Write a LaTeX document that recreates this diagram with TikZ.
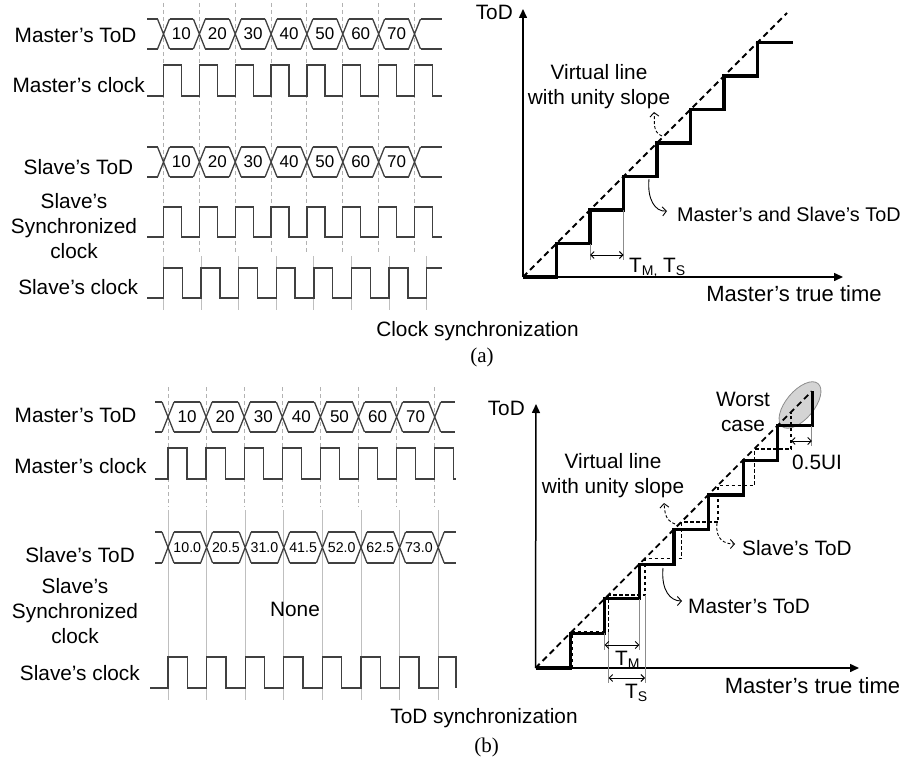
\documentclass[tikz,border=0pt]{standalone}
\usepackage{fontspec}
\setmainfont{Liberation Sans}
\newfontfamily\serifcap{Liberation Serif}
\usetikzlibrary{arrows.meta}
\newcommand{\sub}[1]{\raisebox{-3.5pt}{\fontsize{14}{14}\selectfont #1}}
% name, x start, x end, first crossing, period, y top, y bottom, value style, values
\newcommand{\todbus}[9]{%
  \draw[wave] (#2,#6) -- ({#4-6},#6) (#2,#7) -- ({#4-6},#7)
    ({#4+7*#5+6},#6) -- (#3,#6) ({#4+7*#5+6},#7) -- (#3,#7);
  \foreach \i in {0,...,7}
    \draw[wave] ({#4+#5*\i-6},#6) -- ({#4+#5*\i+6},#7) ({#4+#5*\i-6},#7) -- ({#4+#5*\i+6},#6);
  \foreach \v [count=\i from 0] in {#9} {
    \draw[wave] ({#4+#5*\i+6},#6) -- ({#4+#5*(\i+1)-6},#6) ({#4+#5*\i+6},#7) -- ({#4+#5*(\i+1)-6},#7);
    \node[#8] (#1-\i) at ({#4+#5*(\i+0.5)},{(#6+#7)/2}) {\v};
  }%
}
% x start, first rise, period, y high, y low, tail
\newcommand{\clkline}[6]{%
  \draw[wave] (#1,#5) -- (#2,#5)
    foreach \i in {0,...,6} { -- ({#2+#3*\i},#4) -- ({#2+#3*(\i+0.5)},#4) -- ({#2+#3*(\i+0.5)},#5) -- ({#2+#3*(\i+1)},#5) }
    -- ({#2+#3*7},#4) #6;
}

\begin{document}
\begin{tikzpicture}[
  x=1pt,y=-1pt,
  lbl/.style={font=\fontsize{20.8}{25}\selectfont,inner sep=0pt,align=center},
  big/.style={font=\fontsize{22}{25}\selectfont,inner sep=0pt},
  val/.style={font=\fontsize{17}{17}\selectfont,inner sep=0pt},
  valb/.style={font=\fontsize{14.2}{14}\selectfont,inner sep=0pt},
  capt/.style={font=\serifcap\fontsize{21}{25}\selectfont,inner sep=0pt},
  wave/.style={line width=1.3pt,draw=black!75},
  gridd/.style={draw=black!30,line width=0.9pt,dash pattern=on 4pt off 3pt},
  grids/.style={draw=black!25,line width=0.9pt},
  stair/.style={line width=3.2pt},
  slv/.style={line width=1.1pt,dash pattern=on 3.5pt off 2.5pt},
  virt/.style={line width=1.8pt,dash pattern=on 6pt off 4pt},
  axis/.style={line width=1.5pt,-{Triangle[length=9pt,width=8pt]}},
  callout/.style={line width=0.9pt,-{Straight Barb[length=4pt,width=9pt]}},
  dim/.style={line width=0.9pt,{Straight Barb[length=3.5pt,width=7pt]}-{Straight Barb[length=3.5pt,width=7pt]}},
  tick/.style={draw=black!45,line width=0.8pt}
]
\useasboundingbox (0,0) rectangle (909,759);

% (a) waveforms
\foreach \i in {0,...,7} \draw[gridd] ({163.5+35.86*\i},3) -- ({163.5+35.86*\i},252);
\foreach \i in {0,...,7} \draw[grids] ({163.5+37.6*\i},256) -- ({163.5+37.6*\i},310);
\node[lbl,anchor=base east] (mtodA) at (136.7,42.7) {Master's ToD};
\node[lbl,anchor=base east] (mclkA) at (145,93) {Master's clock};
\node[lbl,anchor=base east] (stodA) at (133.3,175) {Slave's ToD};
\node[lbl] (ssyncA) at (74,225.6) {Slave's\\Synchronized\\clock};
\node[lbl,anchor=base east] (sclkA) at (138.3,294) {Slave's clock};
\todbus{mbA}{147}{442}{163.5}{35.86}{19}{49}{val}{10,20,30,40,50,60,70}
\clkline{147}{163.5}{35.86}{65}{96}{-- (432.45,65) -- (432.45,96) -- (442,96)}
\todbus{sbA}{147}{442}{163.5}{35.86}{147}{177}{val}{10,20,30,40,50,60,70}
\clkline{147}{163.5}{35.86}{207}{237}{-- (432.45,207) -- (432.45,237) -- (442,237)}
\clkline{147}{163.5}{37.6}{268}{298}{-- (442,268)}
\node[lbl,anchor=base] (capA) at (477.5,336) {Clock synchronization};
\node[capt,anchor=base] (tagA) at (482,362) {(a)};

% (a) time of day graph
\coordinate (oA) at (523,277);
\coordinate (yA) at (523,9);
\coordinate (xA) at (843,277);
\draw[axis] (oA) -- (yA);
\draw[axis] (oA) -- (xA);
\node[lbl,anchor=base east] (ylA) at (513,20) {ToD};
\node[big,anchor=base] (xlA) at (794,301.7) {Master's true time};
\draw[virt] (oA) -- (787,13);
\draw[stair] (oA) foreach \k in {1,...,7} { -- ({523+33.5*\k},{277-33.5*(\k-1)}) -- ({523+33.5*\k},{277-33.5*\k}) } -- (793,42.5);
\draw[tick] (590,243.5) -- (590,260) (623.5,210) -- (623.5,260);
\draw[dim] (590,255) -- (623.5,255);
\node[lbl,anchor=base west] (tmsA) at (629,272) {T\sub{M,} T\sub{S}};
\node[lbl] (vlA) at (599,86.5) {Virtual line\\with unity slope};
\node[lbl,anchor=base west,font=\fontsize{19.8}{25}\selectfont] (msA) at (677,221.7) {Master's and Slave's ToD};
\coordinate (vA1) at (662,136);
\coordinate (vA2) at (654,112);
\draw[callout,dash pattern=on 3pt off 2pt] (vA1) .. controls +(-10,-4) and +(1,10) .. (vA2);
\coordinate (mA1) at (649,179);
\coordinate (mA2) at (667,211);
\draw[callout] (mA1) .. controls +(-2,20) and +(-12,1) .. (mA2);

% (b) waveforms
\foreach \i in {0,...,7} \draw[gridd] ({168+38.1*\i},387) -- ({168+38.1*\i},507);
\foreach \i in {0,...,7} \draw[grids] ({168+38.6*\i},510) -- ({168+38.6*\i},700);
\node[lbl,anchor=base east] (mtodB) at (136.7,422.7) {Master's ToD};
\node[lbl,anchor=base east] (mclkB) at (146.7,473.3) {Master's clock};
\node[lbl,anchor=base east] (stodB) at (135,562.7) {Slave's ToD};
\node[lbl] (syncB) at (75,610.8) {Slave's\\Synchronized\\clock};
\node[lbl,anchor=base east] (sclkB) at (140,680) {Slave's clock};
\todbus{mbB}{155}{455}{168}{38.1}{402}{432}{val}{10,20,30,40,50,60,70}
\clkline{155}{168}{38.1}{448}{479}{-- (453.75,448) -- (453.75,479) -- (456,479)}
\todbus{sbB}{155}{456}{168}{38.6}{532}{563}{valb}{10.0,20.5,31.0,41.5,52.0,62.5,73.0}
\node[lbl,anchor=base] (none) at (295,616.7) {None};
\clkline{150}{168}{38.6}{657}{688}{-- (456,657) -- (456,688)}
\node[lbl,anchor=base] (capB) at (484,723) {ToD synchronization};
\node[capt,anchor=base] (tagB) at (486.5,752) {(b)};

% (b) time of day graph
\coordinate (oB) at (535.5,668);
\coordinate (yB) at (536,404);
\coordinate (xB) at (859,668);
\draw[fill=black!17,draw=black!45,line width=0.8pt,rotate around={50:(800,405)}] (800,405) ellipse [x radius=28,y radius=14];
\draw[axis] (oB) -- (yB);
\draw[axis] (oB) -- (xB);
\node[lbl,anchor=base east] (ylB) at (525,415) {ToD};
\node[big,anchor=base] (xlB) at (812.5,693.3) {Master's true time};
\draw[virt] (oB) -- (811.8,391.2);
\draw[slv] (572,668) foreach \k in {1,...,6} { -- ({535.5+36.5*\k},{668-36.5*\k}) -- ({535.5+36.5*(\k+1)},{668-36.5*\k}) } -- (791,412.5);
\draw[stair] (oB) foreach \k in {1,...,8} { -- ({535.5+34.6*\k},{668-34.6*(\k-1)}) -- ({535.5+34.6*\k},{668-34.6*\k}) };
\draw[tick] (604.7,633.4) -- (604.7,650) (639.3,598.8) -- (639.3,650)
  (608.5,631.5) -- (608.5,683) (645,595) -- (645,683) (811.8,425.8) -- (811.8,446);
\draw[dim] (604.7,645) -- (639.3,645);
\draw[dim] (608.5,678) -- (645,678);
\draw[dim] (791,441) -- (811.8,441);
\node[lbl,anchor=base west] (tmB) at (615,665) {T\sub{M}};
\node[lbl,anchor=base west] (tsB) at (625,698) {T\sub{S}};
\node[lbl] (wcB) at (743,412) {Worst\\case};
\node[lbl] (uiB) at (817,462) {0.5UI};
\node[lbl] (vlB) at (613,476) {Virtual line\\with unity slope};
\node[lbl,anchor=base west] (stB) at (742,555) {Slave's ToD};
\node[lbl,anchor=base west] (mtB) at (688,613) {Master's ToD};
\coordinate (vB1) at (675,524);
\coordinate (vB2) at (664,503);
\draw[callout,dash pattern=on 3pt off 2pt] (vB1) .. controls +(-10,-4) and +(1,10) .. (vB2);
\coordinate (sB1) at (717,523);
\coordinate (sB2) at (735,544);
\draw[callout,dash pattern=on 3pt off 2pt] (sB1) .. controls +(-2,17) and +(-10,0) .. (sB2);
\coordinate (mB1) at (663,568);
\coordinate (mB2) at (682,601);
\draw[callout] (mB1) .. controls +(-2,22) and +(-12,0) .. (mB2);
\end{tikzpicture}
\end{document}
